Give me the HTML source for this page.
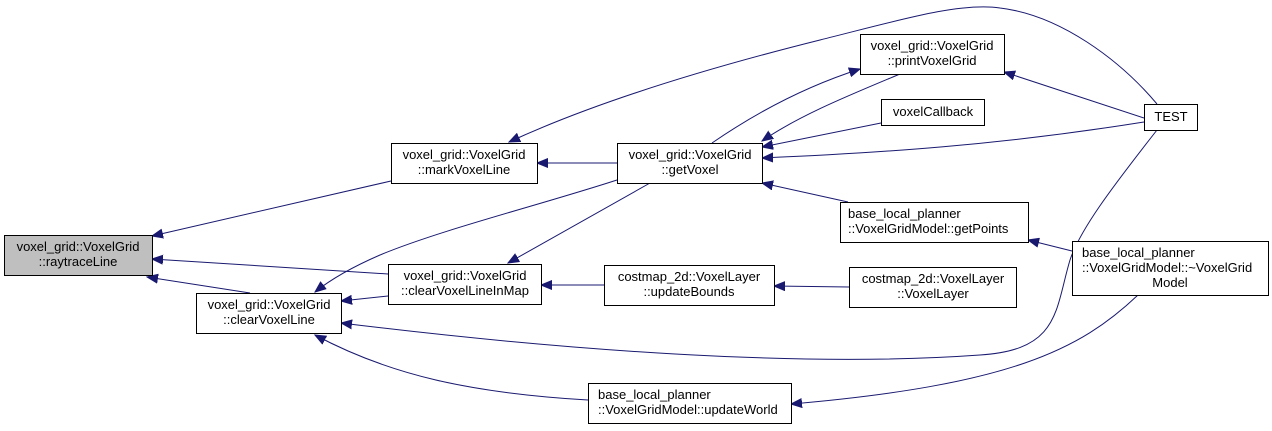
<!DOCTYPE html>
<html><head><meta charset="utf-8"><style>
html,body{margin:0;padding:0;background:#fff;}
svg{display:block;}
text{font-family:"Liberation Sans",Arial,sans-serif;font-size:13px;fill:#000;}
.b{fill:#fff;stroke:#000;stroke-width:1;}
.e{fill:none;stroke:#191970;stroke-width:1;}
</style></head><body>
<svg width="1272" height="431" viewBox="0 0 1272 431" xmlns="http://www.w3.org/2000/svg">
<defs>
<marker id="a" markerWidth="12" markerHeight="10" refX="11" refY="5" orient="auto" markerUnits="userSpaceOnUse">
<path d="M11,5 L0,0.5 L0,9.5 Z" fill="#191970" stroke="#191970"/>
</marker>
</defs>
<path class="e" marker-end="url(#a)" d="M391,181 L152,236"/>
<path class="e" marker-end="url(#a)" d="M388,274 L152,259"/>
<path class="e" marker-end="url(#a)" d="M250,293 L147,277"/>
<path class="e" marker-end="url(#a)" d="M617,163 L537,163"/>
<path class="e" marker-end="url(#a)" d="M1157,104 C1120,60 1060,15 1000,8 C960,2 900,20 820,40 C720,65 600,100 509,142"/>
<path class="e" marker-end="url(#a)" d="M617,180 C540,205 440,230 380,255 C350,268 330,280 315,292"/>
<path class="e" marker-end="url(#a)" d="M650,183 L508,263"/>
<path class="e" marker-end="url(#a)" d="M388,296 L341,301"/>
<path class="e" marker-end="url(#a)" d="M604,285 L541,285"/>
<path class="e" marker-end="url(#a)" d="M849,287 L774,286"/>
<path class="e" marker-end="url(#a)" d="M712,143 C760,110 810,85 860,69"/>
<path class="e" marker-end="url(#a)" d="M900,74 C850,95 800,115 762,141"/>
<path class="e" marker-end="url(#a)" d="M881,123 L762,147"/>
<path class="e" marker-end="url(#a)" d="M1144,122 C1000,145 880,153 762,158"/>
<path class="e" marker-end="url(#a)" d="M848,202 L762,183"/>
<path class="e" marker-end="url(#a)" d="M1144,118 L1004,72"/>
<path class="e" marker-end="url(#a)" d="M1072,251 L1028,240"/>
<path class="e" marker-end="url(#a)" d="M1157,130 C1110,190 1080,230 1070,260 C1055,310 1060,350 980,355 C800,368 560,350 341,323"/>
<path class="e" marker-end="url(#a)" d="M1138,295 C1080,350 1010,385 791,404"/>
<path class="e" marker-end="url(#a)" d="M588,400 C470,393 390,375 315,335"/>
<rect x="4.5" y="235.5" width="148" height="40" fill="#bfbfbf" stroke="#000"/>
<text x="78" y="251" text-anchor="middle">voxel_grid::VoxelGrid</text>
<text x="78" y="266" text-anchor="middle">::raytraceLine</text>
<rect class="b" x="391.5" y="143.5" width="146" height="40"/>
<text x="464" y="159" text-anchor="middle">voxel_grid::VoxelGrid</text>
<text x="464" y="174" text-anchor="middle">::markVoxelLine</text>
<rect class="b" x="196.5" y="293.5" width="145" height="40"/>
<text x="269" y="309" text-anchor="middle">voxel_grid::VoxelGrid</text>
<text x="269" y="324" text-anchor="middle">::clearVoxelLine</text>
<rect class="b" x="388.5" y="264.5" width="153" height="40"/>
<text x="465" y="280" text-anchor="middle">voxel_grid::VoxelGrid</text>
<text x="465" y="295" text-anchor="middle">::clearVoxelLineInMap</text>
<rect class="b" x="617.5" y="143.5" width="145" height="40"/>
<text x="690" y="159" text-anchor="middle">voxel_grid::VoxelGrid</text>
<text x="690" y="174" text-anchor="middle">::getVoxel</text>
<rect class="b" x="860.5" y="34.5" width="144" height="40"/>
<text x="932" y="50" text-anchor="middle">voxel_grid::VoxelGrid</text>
<text x="932" y="65" text-anchor="middle">::printVoxelGrid</text>
<rect class="b" x="881.5" y="99.5" width="103" height="26"/>
<text x="933" y="116" text-anchor="middle">voxelCallback</text>
<rect class="b" x="1144.5" y="104.5" width="53" height="26"/>
<text x="1171" y="121" text-anchor="middle">TEST</text>
<rect class="b" x="840.5" y="202.5" width="188" height="40"/>
<text x="848" y="218">base_local_planner</text>
<text x="848" y="233">::VoxelGridModel::getPoints</text>
<rect class="b" x="604.5" y="265.5" width="170" height="40"/>
<text x="689" y="281" text-anchor="middle">costmap_2d::VoxelLayer</text>
<text x="689" y="296" text-anchor="middle">::updateBounds</text>
<rect class="b" x="849.5" y="267.5" width="167" height="40"/>
<text x="933" y="283" text-anchor="middle">costmap_2d::VoxelLayer</text>
<text x="933" y="298" text-anchor="middle">::VoxelLayer</text>
<rect class="b" x="1072.5" y="241.5" width="196" height="54"/>
<text x="1082" y="257">base_local_planner</text>
<text x="1082" y="272">::VoxelGridModel::~VoxelGrid</text>
<text x="1170" y="287" text-anchor="middle">Model</text>
<rect class="b" x="588.5" y="383.5" width="203" height="40"/>
<text x="598" y="399">base_local_planner</text>
<text x="598" y="414">::VoxelGridModel::updateWorld</text>
</svg>
</body></html>
